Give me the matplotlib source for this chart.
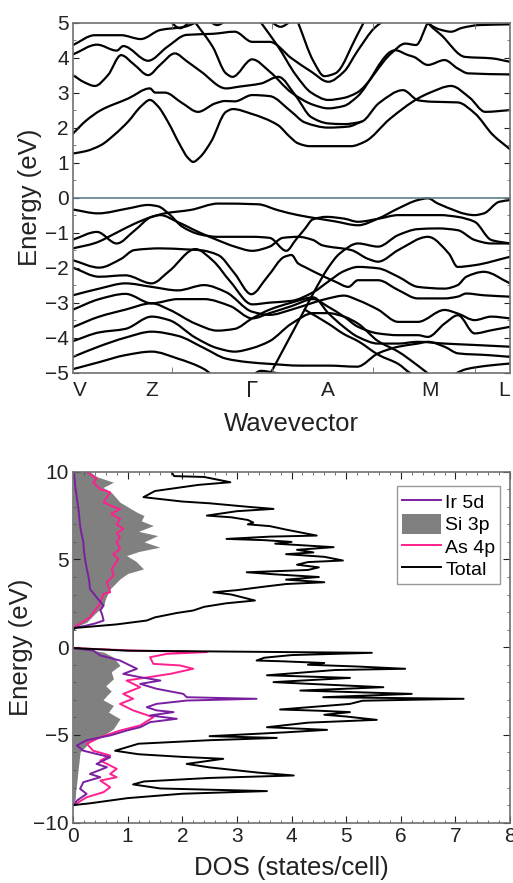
import matplotlib
matplotlib.use("Agg")
import matplotlib.pyplot as plt
from matplotlib.patches import Patch, PathPatch
from matplotlib.lines import Line2D
from matplotlib.path import Path

plt.rcParams['font.family'] = ['Liberation Sans', 'DejaVu Sans']

# ---------------- band structure data (k along path 0..1, E in eV) ----------------
kpoint_labels = ['V', 'Z', r'$\Gamma$', 'A', 'M', 'L']
kpoint_pos = [0.0, 0.181, 0.410, 0.584, 0.817, 1.0]

cb1 = [(0,1.26),(0.03,1.33),(0.064,1.5),(0.095,1.8),(0.126,2.17),(0.155,2.6),(0.176,2.79),(0.195,2.6),(0.217,2.17),(0.245,1.5),(0.262,1.15),(0.275,1.02),(0.29,1.15),(0.316,1.6),(0.35,2.45),(0.366,2.53),(0.407,2.4),(0.469,2.07),(0.495,1.75),(0.515,1.55),(0.542,1.47),(0.636,1.47),(0.668,1.6),(0.725,2.25),(0.789,2.83),(0.817,3.0),(0.865,3.19),(0.908,2.85),(0.943,2.45),(1.0,2.5)]
cb2 = [(0,1.83),(0.03,2.2),(0.064,2.5),(0.126,2.83),(0.176,3.12),(0.188,3.0),(0.21,3.0),(0.25,2.7),(0.286,2.45),(0.325,2.69),(0.348,2.76),(0.37,2.75),(0.41,2.93),(0.45,2.9),(0.50,2.45),(0.53,2.15),(0.584,2.0),(0.63,2.03),(0.66,2.17)]
cb3 = [(0,3.5),(0.025,3.3),(0.05,3.19),(0.08,3.5),(0.11,4.07),(0.14,3.8),(0.172,3.5),(0.2,3.8),(0.233,4.12),(0.26,3.9),(0.293,3.6),(0.35,3.12),(0.38,3.17),(0.43,3.26),(0.47,3.45),(0.51,2.9),(0.545,2.3),(0.584,2.12),(0.62,2.1),(0.66,2.17),(0.70,2.7),(0.755,3.07),(0.79,2.78),(0.82,2.74),(0.88,2.72),(0.92,2.4),(0.96,1.8),(1.0,1.38)]
cb4 = [(0.28,5.0),(0.32,4.3),(0.35,3.55),(0.365,3.45),(0.41,3.95),(0.45,3.6),(0.50,3.0),(0.55,2.65),(0.584,2.55),(0.62,2.62),(0.65,2.88),(0.737,4.21),(0.767,4.07),(0.78,4.02),(0.812,3.79),(0.85,3.93),(0.88,3.69),(0.904,3.55),(1.0,3.52)]
cb5 = [(0,4.09),(0.055,4.37),(0.1,4.2),(0.115,4.33),(0.172,3.91),(0.215,4.3),(0.26,4.65),(0.32,4.68),(0.37,4.74),(0.41,4.45),(0.45,4.45),(0.50,3.98),(0.545,3.6),(0.584,3.31),(0.62,3.6),(0.65,4.17),(0.69,4.85),(0.705,5.0)]
cb6 = [(0,4.36),(0.05,4.64),(0.11,4.64),(0.155,4.53),(0.20,4.79),(0.255,4.88),(0.29,5.05)]
cb7 = [(0.515,5.0),(0.55,3.9),(0.575,3.47),(0.60,3.55),(0.65,4.64),(0.665,5.0)]
cb8 = [(0.43,5.0),(0.47,4.3),(0.51,3.5),(0.545,3.0),(0.584,2.79),(0.62,2.85),(0.65,3.0),(0.728,4.12),(0.76,4.4),(0.785,4.36),(0.812,5.0),(0.83,5.3)]
cb9 = [(0.80,5.3),(0.812,5.0),(0.843,4.64),(0.897,4.02),(0.957,3.98),(1.0,3.88)]
cb10 = [(0.80,5.3),(0.812,5.0),(0.84,4.8),(0.865,4.74),(0.89,4.85),(0.93,4.93),(1.0,4.95)]
cb11 = [(0.22,5.05),(0.245,4.84),(0.27,5.05)]
cb12 = [(0.31,5.05),(0.33,4.93),(0.35,5.05)]
cb13 = [(0.45,5.05),(0.475,4.88),(0.50,5.05)]

vbA = [(0,-0.34),(0.057,-0.45),(0.126,-0.31),(0.172,-0.21),(0.195,-0.25),(0.22,-0.47),(0.25,-0.83),(0.29,-1.05),(0.33,-1.12),(0.41,-1.12),(0.45,-1.15),(0.488,-1.52),(0.51,-1.2),(0.53,-0.9),(0.549,-0.62),(0.58,-0.55),(0.62,-0.6),(0.652,-0.69),(0.70,-0.6),(0.744,-0.5),(0.84,-0.5),(0.88,-0.55),(0.919,-0.69),(0.957,-1.21),(1.0,-1.31)]
vbB = [(0,-1.2),(0.055,-0.98),(0.10,-1.31),(0.14,-0.95),(0.18,-0.55),(0.20,-0.5),(0.24,-0.7),(0.29,-1.0),(0.33,-1.21),(0.37,-1.4),(0.41,-1.52),(0.45,-1.4),(0.48,-1.15),(0.515,-1.12),(0.549,-1.21),(0.57,-1.36),(0.637,-1.5),(0.675,-1.75),(0.698,-1.83),(0.744,-1.5),(0.812,-1.12),(0.86,-1.6),(0.88,-1.98),(0.919,-1.93),(1.0,-1.69)]
vbC = [(0,-1.45),(0.05,-1.3),(0.1,-1.0),(0.14,-0.75),(0.18,-0.55),(0.21,-0.45),(0.27,-0.35),(0.332,-0.17),(0.423,-0.19),(0.469,-0.36),(0.515,-0.5),(0.561,-0.6),(0.60,-0.68),(0.652,-0.79),(0.698,-0.6),(0.744,-0.31),(0.789,-0.07),(0.812,-0.02),(0.835,-0.17),(0.919,-0.5),(0.94,-0.45),(0.975,-0.12),(1.0,-0.07)]
vbD = [(0,-1.79),(0.06,-2.0),(0.11,-1.75),(0.14,-1.5),(0.2,-1.45),(0.26,-1.48),(0.29,-1.5),(0.332,-1.64),(0.37,-2.17),(0.408,-2.76),(0.445,-2.26),(0.484,-1.69),(0.50,-1.64),(0.515,-1.88),(0.53,-1.98),(0.56,-2.17),(0.6,-2.4),(0.63,-2.55),(0.652,-2.36),(0.698,-2.36),(0.744,-2.64),(0.789,-2.88),(0.85,-2.88),(0.88,-2.83),(0.90,-2.74),(0.94,-2.79),(1.0,-2.83)]
vbE = [(0,-2.0),(0.06,-2.26),(0.12,-2.22),(0.18,-2.45),(0.22,-2.1),(0.28,-1.47),(0.32,-1.8),(0.36,-2.4),(0.41,-3.05),(0.45,-3.0),(0.5,-2.95),(0.55,-2.7),(0.584,-2.4),(0.62,-2.1),(0.652,-1.98),(0.698,-2.02),(0.744,-2.26),(0.789,-2.55),(0.85,-2.6),(0.88,-2.5),(0.90,-2.26),(0.94,-2.12),(1.0,-2.45)]
vbF = [(0.44,-5.3),(0.47,-4.6),(0.5,-3.9),(0.53,-3.2),(0.56,-2.5),(0.584,-2.0),(0.61,-1.6),(0.652,-1.31),(0.698,-1.4),(0.744,-1.07),(0.789,-0.9),(0.835,-0.88),(0.88,-0.93),(0.919,-1.21),(0.957,-1.31),(1.0,-1.31)]
vbG = [(0,-2.79),(0.06,-2.6),(0.12,-2.45),(0.18,-2.55),(0.24,-2.65),(0.30,-2.5),(0.35,-2.7),(0.41,-3.26),(0.45,-3.35),(0.5,-3.2),(0.55,-3.0),(0.584,-2.88),(0.62,-2.8),(0.652,-2.93),(0.698,-3.2),(0.744,-3.55),(0.789,-3.55),(0.85,-3.21),(0.88,-3.31),(0.919,-3.5),(0.957,-3.4),(1.0,-3.45)]
vbH = [(0,-3.2),(0.06,-2.9),(0.12,-2.75),(0.18,-3.02),(0.24,-2.9),(0.30,-2.9),(0.36,-3.1),(0.41,-3.45),(0.45,-3.3),(0.5,-3.1),(0.55,-2.9),(0.584,-3.12),(0.62,-3.4),(0.652,-3.69),(0.698,-3.88),(0.744,-3.93),(0.789,-3.93),(0.812,-3.98),(0.85,-3.6),(0.881,-3.36),(0.919,-3.88),(0.957,-3.79),(1.0,-3.69)]
vbI = [(0,-3.7),(0.06,-3.4),(0.12,-3.2),(0.18,-3.02),(0.22,-3.2),(0.28,-3.6),(0.33,-3.8),(0.37,-3.75),(0.41,-3.45),(0.45,-3.2),(0.5,-3.0),(0.55,-2.85),(0.584,-3.3),(0.62,-3.7),(0.652,-3.98),(0.698,-4.17),(0.744,-4.17),(0.789,-4.12),(0.85,-4.17),(0.919,-4.21),(1.0,-4.26)]
vbJ = [(0,-4.1),(0.06,-3.85),(0.12,-3.75),(0.18,-3.4),(0.22,-3.5),(0.28,-4.0),(0.33,-4.3),(0.37,-4.4),(0.41,-4.3),(0.45,-4.1),(0.5,-3.6),(0.55,-3.3),(0.584,-3.3),(0.62,-3.4),(0.652,-3.6),(0.698,-4.1),(0.744,-4.4),(0.789,-4.8),(0.83,-5.2)]
vbK = [(0,-4.55),(0.06,-4.25),(0.12,-4.0),(0.18,-3.83),(0.24,-3.95),(0.30,-4.3),(0.35,-4.6),(0.40,-4.7),(0.45,-4.75),(0.52,-4.8),(0.584,-4.8),(0.65,-4.83),(0.698,-4.45),(0.744,-4.26),(0.789,-4.17),(0.812,-4.12),(0.85,-4.26),(0.881,-4.45),(0.95,-4.5),(1.0,-4.55)]
vbL = [(0,-4.9),(0.06,-4.7),(0.12,-4.5),(0.18,-4.4),(0.24,-4.6),(0.30,-4.9),(0.33,-5.2)]
vbM = [(0.4,-5.2),(0.43,-4.95),(0.46,-5.0),(0.5,-5.1)]
vbN = [(0.53,-3.2),(0.584,-3.6),(0.62,-3.9),(0.652,-4.1),(0.70,-4.5),(0.744,-4.75),(0.77,-5.0),(0.80,-5.2)]
vbO = [(0.85,-5.2),(0.9,-4.9),(0.95,-4.8),(1.0,-4.74)]

bands = [cb1, cb2, cb3, cb4, cb5, cb6, cb7, cb8, cb9, cb10, cb11, cb12, cb13,
         vbA, vbB, vbC, vbD, vbE, vbF, vbG, vbH, vbI, vbJ, vbK, vbL, vbM, vbN, vbO]

# ---------------- DOS data (DOS value, energy) ----------------
total_dos = [1.8,1.85,2.4,2.88,2.3,1.5,1.29,2.0,2.5,3.2,3.67,3.0,2.45,2.9,3.2,3.3,3.2,3.6,3.9,4.46,3.6,2.81,3.5,4.0,3.7,4.77,4.1,4.4,3.9,4.6,4.94,4.3,4.1,4.5,4.3,3.18,3.7,4.5,3.9,4.6,3.9,3.5,3.0,2.57,2.9,3.33,2.8,2.4,2.2,1.9,1.5,1.35,0.8,0.05,0.0,
             0.0,1.0,5.47,4.0,3.5,3.36,3.8,4.6,4.3,5.2,6.08,4.8,3.55,5.07,3.67,4.4,5.68,4.16,6.2,4.58,7.15,5.3,5.07,4.8,3.79,4.5,5.07,4.6,5.0,5.56,4.3,3.55,4.65,3.9,2.5,3.73,2.5,1.2,0.77,1.2,2.0,2.75,2.08,2.5,3.1,3.4,4.04,2.5,1.3,1.1,1.6,3.55,2.0,1.0,0.3,0.0]
total_e = [10.0,9.75,9.7,9.4,9.25,8.9,8.55,8.3,8.2,8.0,7.88,7.75,7.5,7.4,7.25,7.1,7.0,6.9,6.7,6.36,6.3,6.17,6.1,6.0,5.9,5.7,5.55,5.4,5.3,5.15,4.94,4.85,4.7,4.55,4.4,4.27,4.15,4.0,3.85,3.7,3.6,3.45,3.25,3.13,3.0,2.66,2.5,2.3,2.09,1.95,1.7,1.52,1.3,1.1,1.0,
           -0.05,-0.2,-0.32,-0.45,-0.6,-0.76,-0.8,-0.9,-1.0,-1.1,-1.23,-1.3,-1.6,-1.75,-1.99,-2.1,-2.28,-2.47,-2.66,-2.85,-2.94,-3.05,-3.23,-3.3,-3.55,-3.62,-3.7,-3.85,-3.95,-4.14,-4.3,-4.56,-4.71,-4.85,-5.07,-5.17,-5.3,-5.5,-5.9,-6.1,-6.25,-6.36,-6.65,-6.85,-7.05,-7.15,-7.31,-7.45,-7.65,-7.82,-8.05,-8.2,-8.35,-8.6,-8.9,-9.0]

si3p_dos = [0.3,0.45,0.74,0.55,0.7,0.86,1.0,1.17,1.3,1.25,1.47,1.2,1.55,1.3,1.59,1.2,0.98,1.15,1.29,1.0,0.86,0.68,0.6,0.56,0.4,0.25,0.04,0.0,
            0.0,0.3,0.56,0.74,0.86,0.7,0.74,0.6,0.7,0.62,0.55,0.74,0.65,0.86,0.74,0.56,0.31,0.13,0.1,0.07,0.05,0.04,0.0]
si3p_e = [10.0,9.7,9.4,9.1,8.83,8.26,8.0,7.69,7.5,7.2,6.93,6.6,6.36,6.0,5.7,5.45,5.22,4.9,4.46,4.2,3.89,3.32,2.8,2.37,1.9,1.42,1.14,1.1,
          -0.05,-0.15,-0.28,-0.57,-1.04,-1.4,-1.8,-2.2,-2.5,-2.75,-3.0,-3.32,-3.7,-4.08,-4.65,-5.03,-5.41,-5.98,-6.8,-7.69,-8.2,-8.64,-8.9]

ir5d_dos = [0.02,0.04,0.07,0.1,0.13,0.16,0.19,0.2,0.22,0.25,0.28,0.3,0.31,0.43,0.56,0.5,0.53,0.56,0.4,0.2,0.0,
            0.0,0.37,0.5,0.86,1.17,0.92,1.23,1.6,1.23,1.53,2.02,2.08,3.36,2.08,1.53,1.35,1.53,1.84,1.41,1.9,1.41,1.23,0.98,0.68,0.25,0.07,0.19,0.68,0.43,0.62,0.31,0.5,0.19,0.13,0.25,0.07,0.0]
ir5d_e = [9.88,9.2,8.5,7.88,6.93,6.4,5.98,5.5,5.03,4.5,4.08,3.7,3.32,2.85,2.37,2.1,1.9,1.52,1.35,1.2,1.1,
          -0.05,-0.19,-0.47,-0.76,-1.23,-1.52,-1.71,-1.9,-2.09,-2.37,-2.66,-2.85,-2.94,-3.04,-3.23,-3.42,-3.6,-3.7,-3.89,-4.08,-4.27,-4.56,-4.75,-5.03,-5.3,-5.6,-5.9,-6.27,-6.65,-6.84,-7.22,-7.41,-7.69,-8.07,-8.36,-8.74,-9.02]

as4p_dos = [0.25,0.31,0.43,0.37,0.5,0.68,0.56,0.74,0.86,0.7,0.86,0.8,0.92,0.8,0.86,0.8,0.86,0.74,0.83,0.71,0.74,0.62,0.68,0.56,0.49,0.31,0.07,0.0,
            0.0,1.1,2.45,1.72,1.41,1.47,1.96,2.2,1.78,1.4,0.98,1.23,0.92,1.1,0.86,1.1,1.47,1.23,0.86,0.5,0.25,0.37,0.68,0.5,0.8,0.68,0.8,0.5,0.68,0.56,0.25,0.0]
as4p_e = [10.0,9.88,9.59,9.4,9.0,8.83,8.26,8.0,7.88,7.6,7.31,7.0,6.74,6.5,6.27,6.0,5.6,5.3,5.03,4.46,4.08,3.7,3.13,3.04,2.47,1.71,1.23,1.1,
          -0.05,-0.19,-0.28,-0.38,-0.57,-0.95,-1.04,-1.23,-1.52,-1.7,-1.9,-2.28,-2.66,-2.94,-3.23,-3.6,-3.99,-4.46,-4.75,-5.13,-5.5,-5.9,-6.17,-6.46,-6.93,-7.22,-7.41,-7.6,-7.98,-8.26,-8.55,-9.02]


def smooth_band_path(nodes):
    """Cubic Hermite (PCHIP-style slopes) Bezier path through the read nodes."""
    xs = [p[0] for p in nodes]
    ys = [p[1] for p in nodes]
    n = len(xs)
    sec = [(ys[i + 1] - ys[i]) / (xs[i + 1] - xs[i]) for i in range(n - 1)]
    m = [0.0] * n
    m[0] = sec[0]
    m[-1] = sec[-1]
    for i in range(1, n - 1):
        a, b = sec[i - 1], sec[i]
        if a * b <= 0:
            m[i] = 0.0
        else:
            h0 = xs[i] - xs[i - 1]
            h1 = xs[i + 1] - xs[i]
            w1 = 2 * h1 + h0
            w2 = h1 + 2 * h0
            m[i] = (w1 + w2) / (w1 / a + w2 / b)
    verts = [(xs[0], ys[0])]
    codes = [Path.MOVETO]
    for i in range(n - 1):
        h = xs[i + 1] - xs[i]
        verts += [(xs[i] + h / 3, ys[i] + m[i] * h / 3),
                  (xs[i + 1] - h / 3, ys[i + 1] - m[i + 1] * h / 3),
                  (xs[i + 1], ys[i + 1])]
        codes += [Path.CURVE4] * 3
    return Path(verts, codes)


# ---------------- figure ----------------
fig = plt.figure(figsize=(5.13, 8.83), dpi=100)
tick_col = '#222222'
TICK_FS = 15
LABEL_FS = 18.5

ax1 = fig.add_axes([0.1423, 0.578, 0.852, 0.3964])
for b in bands:
    ax1.add_patch(PathPatch(smooth_band_path(b), facecolor='none', edgecolor='black',
                            lw=1.6, capstyle='round', joinstyle='round'))
ax1.axhline(0, color='#5f7f8a', lw=1.2)
ax1.set_xlim(0, 1)
ax1.set_ylim(-5, 5)
ax1.set_yticks(range(-5, 6))
ax1.set_yticks([y + 0.5 for y in range(-5, 5)], minor=True)
ax1.set_xticks(kpoint_pos)
ax1.set_xticklabels(kpoint_labels)
ax1.set_xticks([0.2265, 0.4554, 0.6865, 0.92], minor=True)
ax1.tick_params(axis='x', which='major', length=0, labelsize=TICK_FS, pad=6, colors=tick_col)
ax1.tick_params(axis='x', which='minor', direction='in', length=4, top=True, bottom=True, color='#666666')
ax1.tick_params(axis='y', which='both', direction='in', left=True, right=True, color='#666666')
ax1.tick_params(axis='y', which='major', length=4, labelsize=TICK_FS, colors=tick_col, pad=3)
ax1.tick_params(axis='y', which='minor', length=2)
labs = ax1.get_xticklabels()
labs[0].set_horizontalalignment('left')
labs[-1].set_horizontalalignment('right')
for s in ax1.spines.values():
    s.set_color('#707070')
    s.set_linewidth(1.2)
ax1.set_ylabel('Energy (eV)', fontsize=LABEL_FS, color=tick_col, labelpad=2)
ax1.set_xlabel('Wavevector', fontsize=LABEL_FS, color=tick_col, labelpad=8)

ax2 = fig.add_axes([0.1423, 0.0683, 0.852, 0.3975])
ax2.fill_betweenx(si3p_e, 0, si3p_dos, color='#808080', lw=0)
ax2.plot(as4p_dos, as4p_e, color='#ff1f8e', lw=1.4)
ax2.plot(ir5d_dos, ir5d_e, color='#7a1fa0', lw=1.4)
ax2.plot(total_dos, total_e, color='black', lw=1.4)
ax2.set_xlim(0, 8)
ax2.set_ylim(-10, 10)
ax2.set_xticks(range(0, 9))
ax2.set_xticks([x * 0.2 for x in range(0, 41)], minor=True)
ax2.set_yticks([-10, -5, 0, 5, 10])
ax2.set_yticks(range(-10, 11), minor=True)
ax2.tick_params(which='both', direction='in', top=True, right=True, color='#555555')
ax2.tick_params(which='major', length=5, labelsize=TICK_FS, colors=tick_col, pad=3)
ax2.tick_params(which='minor', length=2.5)
for s in ax2.spines.values():
    s.set_color('#707070')
    s.set_linewidth(1.2)
ax2.set_ylabel('Energy (eV)', fontsize=LABEL_FS, color=tick_col, labelpad=0)
ax2.set_xlabel('DOS (states/cell)', fontsize=LABEL_FS, color=tick_col, labelpad=7)

handles = [Line2D([], [], color='#7a1fa0', lw=1.4),
           Patch(facecolor='#808080', edgecolor='none'),
           Line2D([], [], color='#ff1f8e', lw=1.4),
           Line2D([], [], color='black', lw=1.4)]
leg = ax2.legend(handles, ['Ir 5d', 'Si 3p', 'As 4p', 'Total'], loc='upper right',
                 bbox_to_anchor=(0.978, 0.958), fontsize=14, fancybox=False,
                 edgecolor='#999999', handlelength=2.0, handleheight=1.2,
                 labelspacing=0.1, borderpad=0.25, handletextpad=0.25,
                 borderaxespad=0.0, framealpha=1)
leg.get_frame().set_linewidth(1.0)

fig.savefig('out.png', dpi=100)
